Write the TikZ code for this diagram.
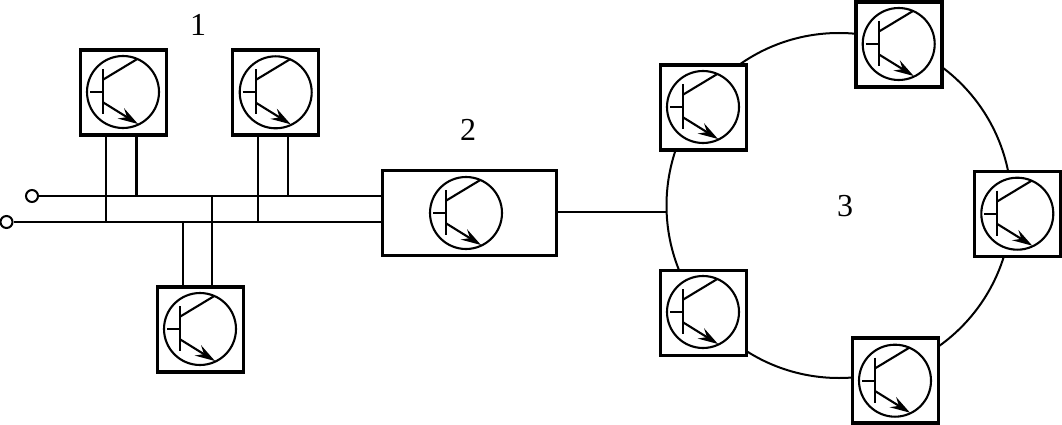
\documentclass[tikz,border=0pt]{standalone}
\usepackage{fontspec}
\setmainfont{Liberation Serif}
\usetikzlibrary{arrows.meta}
\tikzset{
  wire/.style={line width=2.1pt,line cap=butt},
  tbox/.style={draw,fill=white,line width=3.6pt,minimum width=86pt,minimum height=85pt,inner sep=0pt,outer sep=auto},
  widebox/.style={tbox,minimum width=174pt},
  term/.style={circle,draw,line width=2pt,fill=white,minimum size=12pt,inner sep=0pt},
  ringnode/.style={circle,draw,line width=2pt,minimum size=345pt,inner sep=0pt,outer sep=0pt},
  lbl/.style={font=\fontsize{32pt}{32pt}\selectfont,inner sep=0pt},
  trans/.pic={
    \node[circle,draw,line width=2.1pt,minimum size=72pt,inner sep=0pt] (-c) at (0,0) {};
    \draw[line width=2.1pt] (-20,-23) -- (-20,22);
    \draw[line width=2.1pt] (-33,0) -- (-20,0);
    \draw[line width=2.1pt] (-20,-12.3) -- (14.3,-33);
    \draw[line width=2.1pt,-{Stealth[length=20pt,width=12pt,inset=7pt]}] (-20,10.3) -- (15,32);
  }
}
\begin{document}
\begin{tikzpicture}[x=1pt,y=-1pt]
\useasboundingbox (0,0) rectangle (1062,425);
% ring behind the boxes
\node[ringnode] (ring) at (839,205.5) {};
% boxes
\node[tbox] (b1) at (123.5,92.5) {};
\node[tbox] (b2) at (275.5,92.5) {};
\node[tbox] (b3) at (200.5,329.5) {};
\node[widebox] (big) at (469.5,213) {};
\node[tbox] (ra) at (899,44.5) {};
\node[tbox] (rb) at (703.5,107.5) {};
\node[tbox] (rc) at (1017.5,214) {};
\node[tbox] (rd) at (703.5,313) {};
\node[tbox] (re) at (895.5,380.5) {};
% transistors
\pic (t1) at (123,92) {trans};
\pic (t2) at (275.7,92.3) {trans};
\pic (t3) at (200,329) {trans};
\pic (t4) at (466,213) {trans};
\pic (t5) at (898.7,44) {trans};
\pic (t6) at (703,107) {trans};
\pic (t7) at (1017.3,213.7) {trans};
\pic (t8) at (703,312) {trans};
\pic (t9) at (895,380.7) {trans};
% terminals and bus
\node[term] (up) at (32,196) {};
\node[term] (lo) at (6.5,222) {};
\draw[wire] (up) -- (up -| big.west);
\draw[wire] (lo) -- (lo -| big.west);
% stubs
\draw[wire] ([xshift=-17.5pt]b1.south) -- ([xshift=-17.5pt]b1.south |- lo);
\draw[wire] ([xshift=13pt]b1.south) -- ([xshift=13pt]b1.south |- up);
\draw[wire] ([xshift=-17.5pt]b2.south) -- ([xshift=-17.5pt]b2.south |- lo);
\draw[wire] ([xshift=12.2pt]b2.south) -- ([xshift=12.2pt]b2.south |- up);
\draw[wire] ([xshift=-17.5pt]b3.north) -- ([xshift=-17.5pt]b3.north |- lo);
\draw[wire] ([xshift=11.5pt]b3.north) -- ([xshift=11.5pt]b3.north |- up);
% link to ring
\draw[wire] ([yshift=1pt]big.east) -- ([yshift=1pt]big.east -| ring.west);
% labels
\node[lbl] (l1) at (198,24.5) {1};
\node[lbl] (l2) at (468,130) {2};
\node[lbl] (l3) at (845,206) {3};
\end{tikzpicture}
\end{document}
